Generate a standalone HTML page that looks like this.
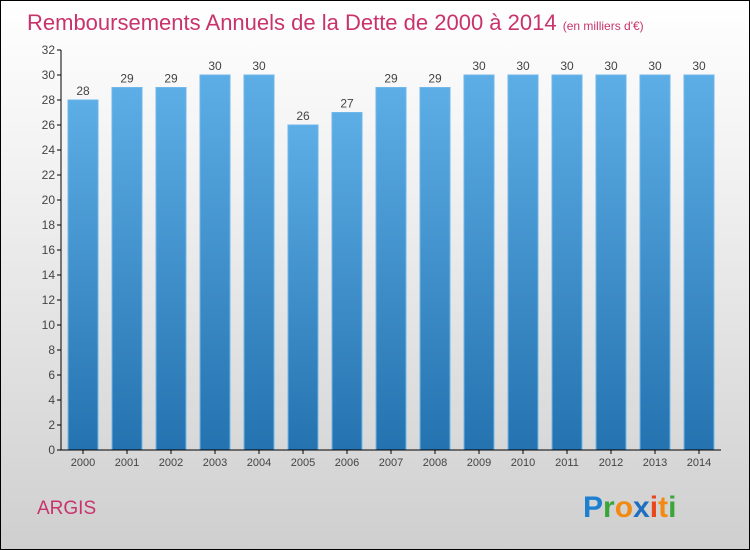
<!DOCTYPE html>
<html><head><meta charset="utf-8"><style>
body{margin:0}
#c{width:748px;height:548px;border:1px solid #000;background:linear-gradient(#ffffff,#f2f2f2 30%,#cfcfcf);position:relative;font-family:"Liberation Sans",sans-serif;overflow:hidden}
</style></head><body>
<div id="c">
<svg width="748" height="548" id="s">
<defs><linearGradient id="g" x1="0" y1="0" x2="0" y2="1"><stop offset="0" stop-color="#5dade6"/><stop offset="1" stop-color="#2473b0"/></linearGradient></defs>
<text x="26" y="29" font-size="22" fill="#c8336b">Remboursements Annuels de la Dette de 2000 à 2014 <tspan font-size="12">(en milliers d'€)</tspan></text>
<text x="36" y="513" font-size="19" fill="#c8336b">ARGIS</text>
<g font-size="30" font-weight="bold" font-family="Liberation Sans, sans-serif">
<text x="582" y="516"><tspan fill="#1d7fd0">P</tspan><tspan fill="#3aa63a">r</tspan><tspan fill="#f28a12">o</tspan><tspan fill="#1d6fc0">x</tspan><tspan fill="#e8461d">i</tspan><tspan fill="#f28a12">t</tspan><tspan fill="#3aa63a">i</tspan></text></g>
<g id="plot"></g>
</svg></div>
<script>
const years=["2000","2001","2002","2003","2004","2005","2006","2007","2008","2009","2010","2011","2012","2013","2014"];
const values=[28,29,29,30,30,26,27,29,29,30,30,30,30,30,30];
const yTicks=[0,2,4,6,8,10,12,14,16,18,20,22,24,26,28,30,32];
const x0=60,y0=449,yMax=32,ph=400,step=44,bw=30;
const ys=v=>y0-v/yMax*ph;
const ns="http://www.w3.org/2000/svg",p=document.getElementById('plot');
function mk(t,a,txt){const e=document.createElementNS(ns,t);for(const k in a)e.setAttribute(k,a[k]);if(txt!=null)e.textContent=txt;p.appendChild(e);return e;}
years.forEach((y,i)=>{const cx=x0+step*i+step/2;
const r=mk('rect',{x:cx-bw/2,y:ys(values[i]),width:bw,height:y0-ys(values[i]),fill:'url(#g)',stroke:'#6fb8ea','stroke-width':1});


const t=mk('text',{x:cx,y:ys(values[i])-5,'font-size':12,fill:'#444','text-anchor':'middle'},values[i]);


const xl=mk('text',{x:cx,y:y0+16,'font-size':11,fill:'#444','text-anchor':'middle'},y);


mk('line',{x1:cx,x2:cx,y1:y0,y2:y0+4,stroke:'#000'});
});
yTicks.forEach(v=>{mk('line',{x1:x0-4,x2:x0,y1:ys(v),y2:ys(v),stroke:'#000'});
const t=mk('text',{x:x0-6,y:ys(v)+4,'font-size':12,fill:'#444','text-anchor':'end'},v);

});
const ya=mk('line',{x1:x0,x2:x0,y1:ys(yMax),y2:y0,stroke:'#000'});


const xa=mk('line',{x1:x0,x2:x0+step*years.length,y1:y0,y2:y0,stroke:'#000'});


</script>
</body></html>
